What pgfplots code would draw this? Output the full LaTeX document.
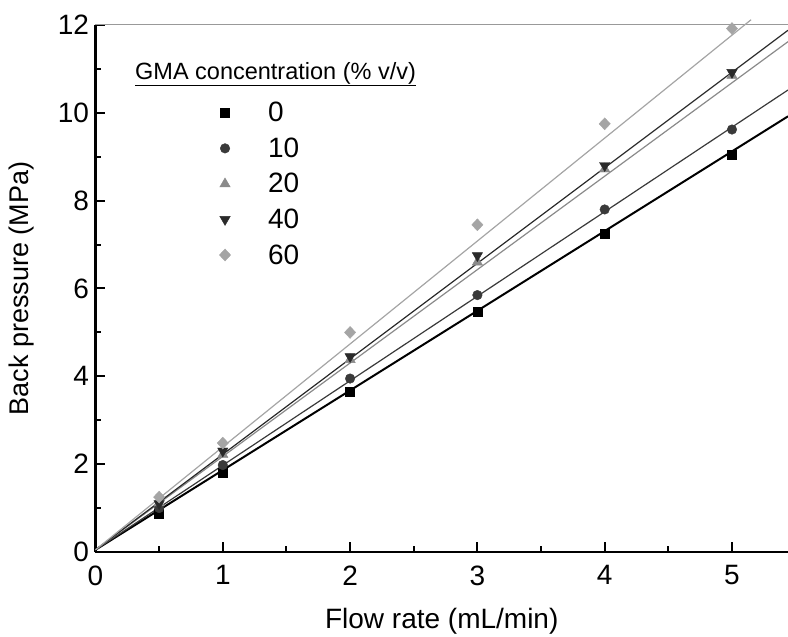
\documentclass[border=0pt]{standalone}
\usepackage{pgfplots}
\pgfplotsset{compat=1.18}
\usepackage{fontspec}
\setmainfont{Liberation Sans}
\definecolor{cA}{HTML}{000000}
\definecolor{cB}{HTML}{3A3A3A}
\definecolor{cC}{HTML}{8A8A8A}
\definecolor{cD}{HTML}{2A2A2A}
\definecolor{cE}{HTML}{A5A5A5}
\begin{document}
\begin{tikzpicture}
\useasboundingbox (-95.5bp,-85bp) rectangle (692.5bp,552bp);
\begin{axis}[
  scale only axis, width=692.5bp, height=527bp,
  xmin=0, xmax=5.44, ymin=0, ymax=12,
  axis x line*=bottom, axis y line*=left,
  axis line style={line width=2.5bp, black},
  xtick={0,1,2,3,4,5}, minor xtick={0.5,1.5,2.5,3.5,4.5},
  ytick={0,2,4,6,8,10,12}, minor ytick={1,3,5,7,9,11},
  tick align=inside, major tick length=10bp, minor tick length=6bp,
  every tick/.style={line width=2bp, black},
  /pgf/number format/assume math mode=true,
  tick label style={font=\fontsize{28bp}{33bp}\selectfont},
  xticklabel style={yshift=-10bp},
  yticklabel style={xshift=-3bp},
  extra y ticks={12}, extra y tick labels={},
  extra y tick style={grid=major, major grid style={color=gray!80, line width=1bp}, major tick length=0pt},
  xlabel={Flow rate (mL/min)}, ylabel={Back pressure (MPa)},
  xlabel style={font=\fontsize{28bp}{33bp}\selectfont, at={(axis description cs:0.5,0)}, anchor=center, yshift=-69bp},
  ylabel style={font=\fontsize{27bp}{32bp}\selectfont, at={(axis description cs:-0.107,0.5)}, anchor=center},
  clip=false,
  legend style={at={(axis cs:0.939,10.24)}, anchor=north west, draw=none, fill=none,
    inner sep=0pt, outer sep=0pt, row sep=14.5bp, column sep=33bp,
    nodes={inner sep=0pt, anchor=west}, font=\fontsize{28bp}{33bp}\selectfont},
  legend cell align=left,
  legend image code/.code={\path[draw=none, fill=none] (0bp,-5bp) rectangle (20bp,5bp); \draw[#1] plot coordinates {(10bp,0bp)};},
]
% fitted lines
\addplot[cA, line width=2bp, forget plot] coordinates {(0,0.05) (5.44,9.92)};
\addplot[cB, line width=1.2bp, forget plot] coordinates {(0,0.05) (5.44,10.52)};
\addplot[cC, line width=1.2bp, forget plot] coordinates {(0,0.05) (5.44,11.62)};
\addplot[cD, line width=1.2bp, forget plot] coordinates {(0,0.05) (5.44,11.88)};
\addplot[cE, line width=1.2bp, forget plot] coordinates {(0,0.05) (5.15,12.12)};
% data
\addplot[only marks, mark=square*, mark size=4.5bp, color=cA] coordinates {(0.5,0.88) (1,1.80) (2,3.65) (3,5.47) (4,7.25) (5,9.05)};
\addlegendentry{0}
\addplot[only marks, mark=*, mark size=4.8bp, color=cB] coordinates {(0.5,1.00) (1,1.98) (2,3.95) (3,5.85) (4,7.80) (5,9.62)};
\addlegendentry{10}
\addplot[only marks, mark=triangle*, mark size=6bp, color=cC] coordinates {(0.5,1.12) (1,2.22) (2,4.38) (3,6.60) (4,8.72) (5,10.85)};
\addlegendentry{20}
\addplot[only marks, mark=triangle*, mark size=6bp, color=cD, mark options={rotate=180}] coordinates {(0.5,1.10) (1,2.30) (2,4.45) (3,6.75) (4,8.80) (5,10.92)};
\addlegendentry{40}
\addplot[only marks, mark=diamond*, mark size=6bp, color=cE, mark options={xscale=1.25}] coordinates {(0.5,1.25) (1,2.48) (2,5.00) (3,7.45) (4,9.75) (5,11.92)};
\addlegendentry{60}
\node[anchor=base west, inner sep=0pt, font=\fontsize{23.5bp}{28bp}\selectfont] at (axis cs:0.31,10.77) {\underline{GMA concentration (\% v/v)}};
\end{axis}
\end{tikzpicture}
\end{document}
